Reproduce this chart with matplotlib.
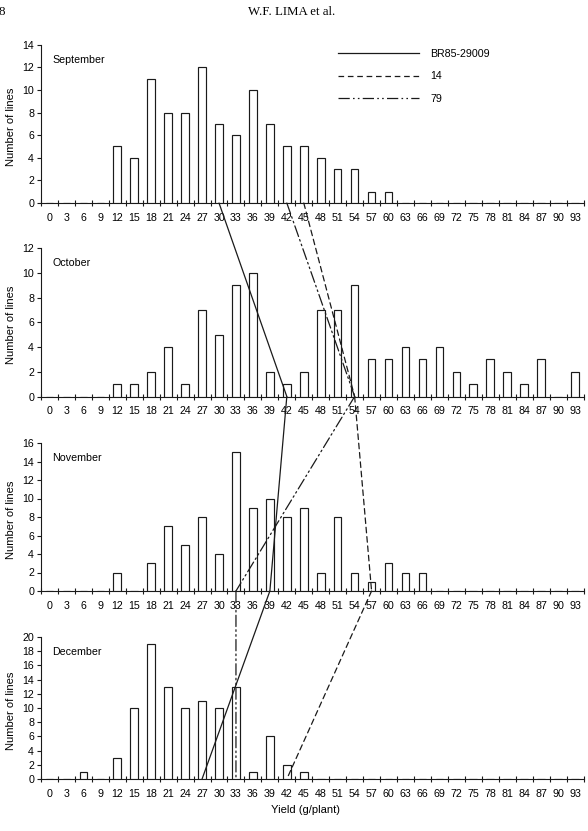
import matplotlib.pyplot as plt
from matplotlib.patches import ConnectionPatch
from matplotlib.lines import Line2D

plt.rcParams['font.family'] = ['Liberation Sans', 'DejaVu Sans']
plt.rcParams['font.size'] = 7.7

# yield classes (g/plant), one bar per class
yield_classes = list(range(0, 94, 3))

# number of lines per class, one list per sowing month
september = [0, 0, 0, 0, 5, 4, 11, 8, 8, 12, 7, 6, 10, 7, 5, 5, 4, 3, 3, 1, 1,
             0, 0, 0, 0, 0, 0, 0, 0, 0, 0, 0]
october = [0, 0, 0, 0, 1, 1, 2, 4, 1, 7, 5, 9, 10, 2, 1, 2, 7, 7, 9, 3, 3,
           4, 3, 4, 2, 1, 3, 2, 1, 3, 0, 2]
november = [0, 0, 0, 0, 2, 0, 3, 7, 5, 8, 4, 15, 9, 10, 8, 9, 2, 8, 2, 1, 3,
            2, 2, 0, 0, 0, 0, 0, 0, 0, 0, 0]
december = [0, 0, 1, 0, 3, 10, 19, 13, 10, 11, 10, 13, 1, 6, 2, 1,
            0, 0, 0, 0, 0, 0, 0, 0, 0, 0, 0, 0, 0, 0, 0, 0]

months = ['September', 'October', 'November', 'December']
counts = [september, october, november, december]
ymax = [14, 12, 16, 20]

# yield class of each check line in each month
br85_29009 = [30, 42, 39, 27]
line_14 = [45, 54, 57, 42]
line_79 = [42, 54, 33, 33]

W, H = 588, 831
fig = plt.figure(figsize=(W / 100, H / 100), dpi=100)

# panel boxes in pixels: (top, bottom)
left_px, right_px = 41, 583.5
boxes = [(44.7, 203), (248, 396.5), (443, 591), (637, 779)]

ink = '#1a1a1a'
axes = []
for i, (top, bot) in enumerate(boxes):
    ax = fig.add_axes([left_px / W, 1 - bot / H, (right_px - left_px) / W, (bot - top) / H])
    x = list(range(len(yield_classes)))
    ax.bar(x, counts[i], width=0.45, color='white', edgecolor=ink, linewidth=0.85, zorder=3)
    ax.set_xlim(-0.5, len(yield_classes) - 0.5)
    ax.set_ylim(0, ymax[i])
    ax.set_yticks(range(0, ymax[i] + 1, 2))
    ax.set_xticks(x)
    ax.set_xticklabels([str(v) for v in yield_classes])
    ax.set_xticks([k - 0.5 for k in range(len(yield_classes) + 1)], minor=True)
    ax.tick_params(axis='x', which='major', length=0, pad=7)
    ax.tick_params(axis='x', which='minor', length=5, direction='inout', width=0.8, color=ink)
    ax.tick_params(axis='y', length=3, width=0.8, pad=2, color=ink)
    for s in ['top', 'right']:
        ax.spines[s].set_visible(False)
    for s in ['left', 'bottom']:
        ax.spines[s].set_color(ink)
        ax.spines[s].set_linewidth(0.8)
    ax.set_ylabel('Number of lines', fontsize=8)
    ax.yaxis.set_label_coords(-0.046, 0.48)
    ax.annotate(months[i], xy=(0, 1), xycoords='axes fraction', xytext=(8, -11),
                textcoords='offset points', va='center', ha='left')
    ax.patch.set_visible(False)
    axes.append(ax)

axes[-1].set_xlabel('Yield (g/plant)', fontsize=8)
axes[-1].xaxis.set_label_coords(0.488, -0.185)

# lines joining the class of each check line from month to month
styles = {
    'BR85-29009': (br85_29009, '-'),
    '14': (line_14, (0, (4.5, 3))),
    '79': (line_79, (0, (9, 2.6, 1.3, 2.6, 1.3, 2.6))),
}
handles = []
for name, (pos, ls) in styles.items():
    for m in range(3):
        con = ConnectionPatch(xyA=(pos[m] / 3, 0), coordsA=axes[m].transData,
                              xyB=(pos[m + 1] / 3, 0), coordsB=axes[m + 1].transData,
                              linestyle=ls, linewidth=0.9, color=ink, zorder=5)
        fig.add_artist(con)
    handles.append(Line2D([], [], linestyle=ls, linewidth=0.9, color=ink))

fig.legend(handles, list(styles.keys()), loc='upper left', bbox_to_anchor=(338 / W, 1 - 49 / H),
           frameon=False, borderpad=0, borderaxespad=0, handlelength=7.6,
           handletextpad=1.0, labelspacing=1.15, fontsize=7.7)

# page header
fig.text(292 / W, 1 - 12 / H, 'W.F. LIMA et al.', ha='center', va='center',
         family='Liberation Serif', fontsize=9.3)
fig.text(-0.002, 1 - 12 / H, '8', ha='left', va='center', family='Liberation Serif', fontsize=9.3)

fig.savefig('out.png', dpi=100)
